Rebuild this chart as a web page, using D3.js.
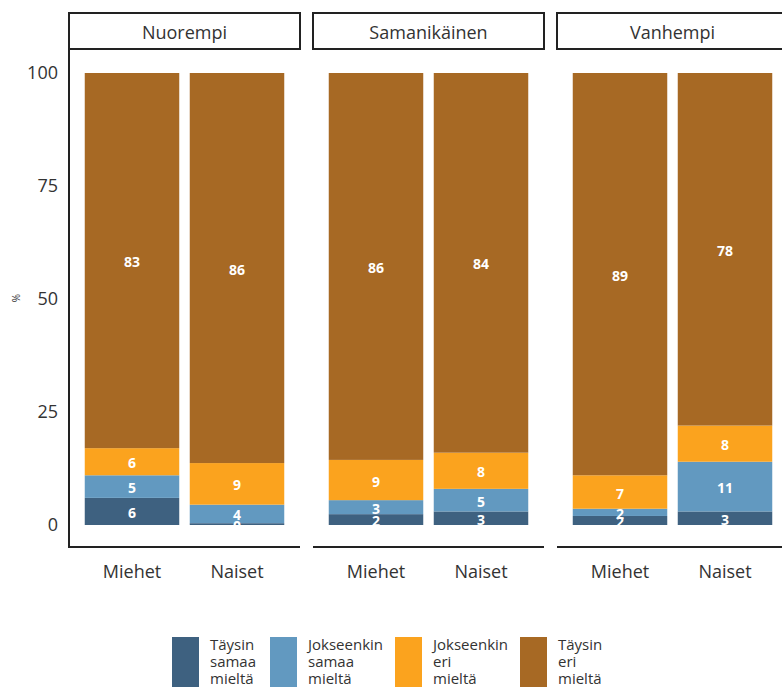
<!DOCTYPE html>
<html><head><meta charset="utf-8">
<script src="https://cdn.jsdelivr.net/npm/d3@7"></script>
<style>body{margin:0;background:#fff;} svg{display:block;}</style>
</head><body>
<svg id="c" width="782" height="687"></svg>
<script>
const panels = ["Nuorempi", "Samanikäinen", "Vanhempi"];
const genders = ["Miehet", "Naiset"];
const categories = ["Täysin samaa mieltä", "Jokseenkin samaa mieltä", "Jokseenkin eri mieltä", "Täysin eri mieltä"];
const legendLines = [["Täysin","samaa","mieltä"],["Jokseenkin","samaa","mieltä"],["Jokseenkin","eri","mieltä"],["Täysin","eri","mieltä"]];
const colors = ["#3e6180", "#6299c0", "#fba31e", "#a76924"];
// values per panel, per gender, per category (%)
const nuorempiMiehet = [6, 5, 6, 83];
const nuorempiNaiset = [0.4, 4.1, 9.2, 86.3];
const samanMiehet = [2.4, 3.1, 8.9, 85.6];
const samanNaiset = [3, 5, 8, 84];
const vanhempiMiehet = [2, 1.6, 7.4, 89];
const vanhempiNaiset = [3, 11, 8, 78];
const yTicks = [0, 25, 50, 75, 100];

const data = [[nuorempiMiehet, nuorempiNaiset],[samanMiehet, samanNaiset],[vanhempiMiehet, vanhempiNaiset]];

const svg = d3.select("#c");
const font = "'Open Sans', sans-serif";
const panelX = [69, 313, 557];
const panelW = 231;
const stripTop = 13, stripBot = 49, panelBot = 547;
const y = d3.scaleLinear().domain([0, 100]).range([525, 73]);

panels.forEach((p, pi) => {
  const g = svg.append("g").attr("transform", `translate(${panelX[pi]},0)`);
  const x = d3.scaleBand().domain(genders).range([0, panelW]).paddingInner(0.1).paddingOuter(0.15);
  // strip
  g.append("rect").attr("x", 0).attr("y", stripTop).attr("width", panelW).attr("height", stripBot - stripTop)
    .attr("fill", "#fff").attr("stroke", "#222").attr("stroke-width", 2);
  g.append("text").attr("x", panelW / 2).attr("y", (stripTop + stripBot) / 2 + 1).attr("text-anchor", "middle")
    .attr("dominant-baseline", "central").attr("font-family", font).attr("font-size", 18).attr("fill", "#333").text(p);
  // bars
  genders.forEach((gd, gi) => {
    const vals = data[pi][gi];
    const stack = [];
    let acc = 0;
    vals.forEach((v, ci) => { stack.push({ci, v, y0: acc, y1: acc + v}); acc += v; });
    g.selectAll(null).data(stack).enter().append("rect")
      .attr("x", x(gd)).attr("width", x.bandwidth())
      .attr("y", d => y(d.y1)).attr("height", d => y(d.y0) - y(d.y1))
      .attr("fill", d => colors[d.ci]);
    g.selectAll(null).data(stack).enter().append("text")
      .attr("x", x(gd) + x.bandwidth() / 2).attr("y", d => y((d.y0 + d.y1) / 2) + 1)
      .attr("text-anchor", "middle").attr("dominant-baseline", "central")
      .attr("font-family", font).attr("font-weight", "bold").attr("font-size", 14).attr("fill", "#fff")
      .text(d => Math.round(d.v));
  });
  // x axis
  const xa = g.append("g").attr("transform", `translate(0,${panelBot})`)
    .call(d3.axisBottom(x).tickSize(0).tickPadding(18));
  xa.select(".domain").attr("stroke", "#222").attr("stroke-width", 2).attr("d", `M0,0H${panelW}`);
  xa.selectAll("text").attr("font-family", font).attr("font-size", 18).attr("fill", "#333");
  if (pi === 0) {
    const ya = g.append("g").call(d3.axisLeft(y).tickValues(yTicks).tickSize(0).tickPadding(11));
    ya.select(".domain").attr("stroke", "#222").attr("stroke-width", 2).attr("d", `M0,${stripBot}V${panelBot + 1}`);
    ya.selectAll("text").attr("font-family", font).attr("font-size", 18).attr("fill", "#333");
  }
});

svg.append("text").attr("transform", "translate(16,298) rotate(-90)").attr("text-anchor", "middle")
  .attr("dominant-baseline", "central").attr("font-family", font).attr("font-size", 10).attr("fill", "#333").text("%");

// legend
const legX = [172, 270, 395, 520];
categories.forEach((c, i) => {
  const lg = svg.append("g").attr("transform", `translate(${legX[i]},637)`);
  lg.append("rect").attr("width", 27).attr("height", 52).attr("fill", colors[i]);
  legendLines[i].forEach((l, li) => {
    lg.append("text").attr("x", 38).attr("y", 13 + li * 17).attr("font-family", font).attr("font-size", 15)
      .attr("fill", "#333").text(l);
  });
});
</script>
</body></html>
